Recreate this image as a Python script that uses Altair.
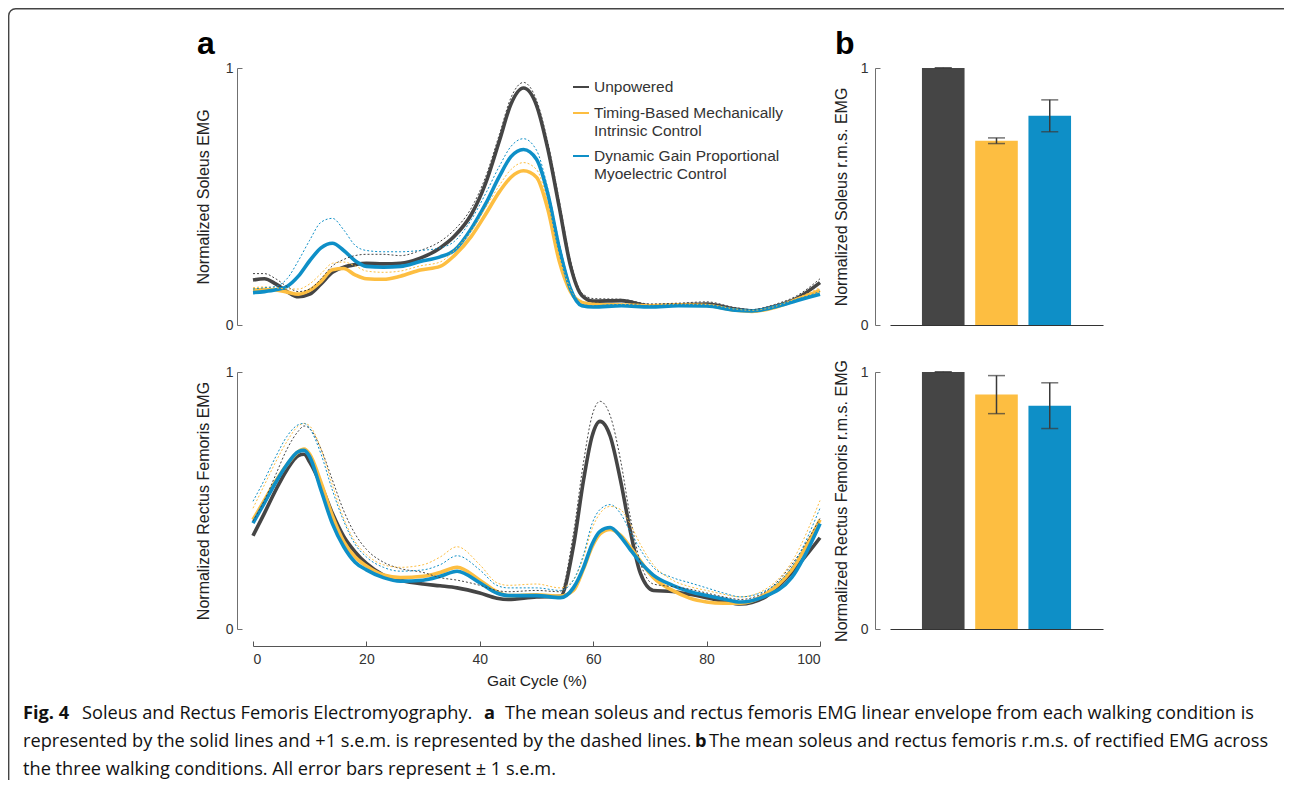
import altair as alt
import pandas as pd

# ---------------- data ----------------
CONDS = [
    "Unpowered",
    "Timing-Based Mechanically Intrinsic Control",
    "Dynamic Gain Proportional Myoelectric Control",
]
COLORS = ["#454545", "#FDBE41", "#0E8FC7"]

# Soleus EMG linear envelope (mean) and mean + 1 s.e.m.
sol_x = [0, 2, 4, 6, 8, 10, 12, 14, 16, 18, 20, 23, 26, 29.5, 33, 35.5, 38.5, 41, 43.5, 45.5,
         47.7, 50, 52, 54, 56, 58, 60, 65, 70, 75, 80, 85, 88, 92, 96, 100]
sol_unpowered = [0.175, 0.18, 0.16, 0.13, 0.11, 0.12, 0.16, 0.205, 0.225, 0.235, 0.24, 0.238, 0.24,
                 0.26, 0.3, 0.345, 0.43, 0.55, 0.72, 0.86, 0.922, 0.855, 0.685, 0.46, 0.23, 0.115,
                 0.093, 0.095, 0.075, 0.078, 0.082, 0.062, 0.055, 0.072, 0.105, 0.165]
sol_timing = [0.136, 0.138, 0.136, 0.128, 0.12, 0.135, 0.17, 0.215, 0.22, 0.195, 0.18, 0.178, 0.19,
              0.214, 0.228, 0.27, 0.345, 0.43, 0.52, 0.575, 0.6, 0.575, 0.45, 0.25, 0.13, 0.088,
              0.08, 0.078, 0.075, 0.078, 0.076, 0.058, 0.053, 0.068, 0.1, 0.135]
sol_dynamic = [0.126, 0.13, 0.137, 0.15, 0.19, 0.25, 0.3, 0.318, 0.29, 0.25, 0.228, 0.225, 0.228,
               0.247, 0.265, 0.29, 0.375, 0.47, 0.58, 0.655, 0.683, 0.645, 0.51, 0.3, 0.14, 0.075,
               0.07, 0.075, 0.07, 0.075, 0.074, 0.058, 0.055, 0.07, 0.095, 0.12]
sol_unpowered_up = [0.2, 0.2, 0.18, 0.15, 0.13, 0.14, 0.18, 0.23, 0.255, 0.27, 0.275, 0.275, 0.27,
                    0.29, 0.325, 0.37, 0.455, 0.575, 0.745, 0.885, 0.944, 0.875, 0.71, 0.485, 0.25,
                    0.125, 0.103, 0.1, 0.082, 0.085, 0.09, 0.068, 0.06, 0.08, 0.115, 0.18]
sol_timing_up = [0.145, 0.148, 0.145, 0.14, 0.14, 0.16, 0.2, 0.24, 0.245, 0.23, 0.21, 0.205, 0.21,
                 0.23, 0.245, 0.29, 0.365, 0.455, 0.545, 0.605, 0.632, 0.605, 0.475, 0.27, 0.14,
                 0.092, 0.085, 0.082, 0.08, 0.082, 0.08, 0.062, 0.057, 0.072, 0.105, 0.145]
sol_dynamic_up = [0.14, 0.145, 0.15, 0.18, 0.25, 0.33, 0.4, 0.415, 0.37, 0.31, 0.29, 0.285, 0.285,
                  0.29, 0.3, 0.325, 0.41, 0.51, 0.62, 0.695, 0.725, 0.68, 0.53, 0.32, 0.15, 0.08,
                  0.075, 0.08, 0.075, 0.08, 0.078, 0.062, 0.058, 0.074, 0.1, 0.13]

# Rectus femoris EMG linear envelope (mean) and mean + 1 s.e.m.
rf_x = [0, 2, 4, 6, 8, 9, 10, 12, 14, 16, 18, 20, 23, 26, 30, 33, 36, 40, 43, 45, 50, 54.2, 56.5,
        58.3, 59.8, 61.2, 63, 64.8, 66.5, 68.3, 70.6, 74, 77, 80, 83, 86, 90, 95, 100]
rf_unpowered = [0.363, 0.45, 0.54, 0.62, 0.675, 0.68, 0.65, 0.56, 0.45, 0.36, 0.3, 0.255, 0.21, 0.19,
                0.175, 0.168, 0.16, 0.14, 0.12, 0.115, 0.125, 0.127, 0.32, 0.58, 0.75, 0.808, 0.75,
                0.58, 0.386, 0.218, 0.15, 0.146, 0.135, 0.122, 0.108, 0.097, 0.12, 0.22, 0.355]
rf_timing = [0.425, 0.5, 0.575, 0.64, 0.69, 0.7, 0.68, 0.57, 0.44, 0.34, 0.28, 0.245, 0.21, 0.2,
             0.205, 0.22, 0.24, 0.19, 0.145, 0.13, 0.133, 0.128, 0.15, 0.235, 0.32, 0.37, 0.387,
             0.365, 0.32, 0.265, 0.2, 0.15, 0.12, 0.105, 0.1, 0.1, 0.13, 0.23, 0.425]
rf_dynamic = [0.412, 0.49, 0.57, 0.64, 0.69, 0.695, 0.67, 0.54, 0.41, 0.32, 0.26, 0.23, 0.2, 0.186,
              0.19, 0.205, 0.225, 0.18, 0.14, 0.13, 0.13, 0.122, 0.16, 0.24, 0.33, 0.38, 0.395,
              0.36, 0.31, 0.26, 0.21, 0.17, 0.146, 0.13, 0.117, 0.105, 0.125, 0.2, 0.41]
rf_unpowered_up = [0.42, 0.5, 0.6, 0.7, 0.77, 0.79, 0.78, 0.7, 0.58, 0.46, 0.37, 0.31, 0.26, 0.235,
                   0.22, 0.2, 0.19, 0.17, 0.15, 0.145, 0.15, 0.145, 0.37, 0.65, 0.83, 0.886, 0.83,
                   0.66, 0.44, 0.26, 0.175, 0.165, 0.155, 0.14, 0.125, 0.115, 0.14, 0.25, 0.43]
rf_timing_up = [0.47, 0.56, 0.65, 0.73, 0.79, 0.8, 0.79, 0.7, 0.56, 0.43, 0.34, 0.29, 0.25, 0.24,
                0.25, 0.28, 0.32, 0.25, 0.18, 0.17, 0.175, 0.16, 0.19, 0.28, 0.39, 0.45, 0.477,
                0.465, 0.41, 0.33, 0.25, 0.19, 0.165, 0.15, 0.135, 0.125, 0.15, 0.26, 0.5]
rf_dynamic_up = [0.497, 0.58, 0.67, 0.75, 0.795, 0.8, 0.78, 0.68, 0.54, 0.42, 0.33, 0.28, 0.24, 0.225,
                 0.23, 0.25, 0.285, 0.23, 0.17, 0.16, 0.16, 0.15, 0.19, 0.29, 0.41, 0.465, 0.484,
                 0.45, 0.38, 0.31, 0.24, 0.2, 0.18, 0.16, 0.14, 0.125, 0.145, 0.24, 0.47]

# r.m.s. EMG bars (normalized) and s.e.m.
sol_rms = [1.0, 0.717, 0.814]
sol_rms_sem = [0.001, 0.011, 0.062]
rf_rms = [1.0, 0.912, 0.869]
rf_rms_sem = [0.001, 0.074, 0.089]

x_ticks = [0, 20, 40, 60, 80, 100]
y_ticks = [0, 1]

caption_line1 = ["Fig. 4", "Soleus and Rectus Femoris Electromyography.", "a",
                 "The mean soleus and rectus femoris EMG linear envelope from each walking condition is"]
caption_line2 = ["represented by the solid lines and +1 s.e.m. is represented by the dashed lines.", "b",
                 "The mean soleus and rectus femoris r.m.s. of rectified EMG across"]
caption_line3 = ["the three walking conditions. All error bars represent \u00b1 1 s.e.m."]

# ---------------- tables ----------------
def long_df(xs, means, uppers):
    rows = []
    for cond, m, u in zip(CONDS, means, uppers):
        for xv, mv, uv in zip(xs, m, u):
            rows.append({"x": xv, "mean": mv, "upper": uv, "cond": cond})
    return pd.DataFrame(rows)


sol_df = long_df(sol_x, [sol_unpowered, sol_timing, sol_dynamic],
                 [sol_unpowered_up, sol_timing_up, sol_dynamic_up])
rf_df = long_df(rf_x, [rf_unpowered, rf_timing, rf_dynamic],
                [rf_unpowered_up, rf_timing_up, rf_dynamic_up])


def bar_df(vals, sems):
    return pd.DataFrame({"cond": CONDS, "rms": vals,
                         "lo": [v - s for v, s in zip(vals, sems)],
                         "hi": [v + s for v, s in zip(vals, sems)]})


sol_bar = bar_df(sol_rms, sol_rms_sem)
rf_bar = bar_df(rf_rms, rf_rms_sem)

# ---------------- layout constants (chart px) ----------------
W, H = 1276, 772
FONT = "Liberation Sans"
LINE_X_RANGE = [245, 812]
TOP_Y = [317, 60]
BOT_Y = [621, 364]
LINE_AXIS_X = 229
BAR_AXIS_X = 867
BAR_X_RANGE = [882, 1095]
AXIS_GREY = "#707070"
TITLE_SIZE = 16
TICK_SIZE = 14

LEGEND = alt.Legend(
    title=None, orient="none", legendX=564, legendY=70,
    symbolType="stroke", symbolSize=256, symbolStrokeWidth=2,
    labelFont=FONT, labelFontSize=15.5, labelColor="#333", labelLimit=400,
    rowPadding=8, labelOffset=4,
    labelExpr=("datum.label == 'Unpowered' ? 'Unpowered' : "
               "indexof(datum.label, 'Timing') == 0 ? "
               "['Timing-Based Mechanically', 'Intrinsic Control'] : "
               "['Dynamic Gain Proportional', 'Myoelectric Control']"),
)


def color_enc(legend):
    return alt.Color("cond:N", scale=alt.Scale(domain=CONDS, range=COLORS), legend=legend)


def y_axis(title):
    return alt.Axis(orient="left", offset=-LINE_AXIS_X, values=y_ticks, format="d", title=title,
                    ticks=False, domainColor=AXIS_GREY, domainWidth=1, grid=False,
                    labelFont=FONT, labelFontSize=TICK_SIZE, labelColor="#333", labelPadding=4,
                    titleFont=FONT, titleFontSize=TITLE_SIZE, titleFontWeight="normal",
                    titleColor="#222", titlePadding=14)


def line_panel(df, yrange, ytitle, xaxis, legend):
    xenc = alt.X("x:Q", scale=alt.Scale(domain=[0, 100], range=LINE_X_RANGE), axis=xaxis)
    ysc = alt.Scale(domain=[0, 1], range=yrange)
    base = alt.Chart(df)
    dotted = base.mark_line(strokeWidth=1, strokeDash=[2, 2], interpolate="monotone").encode(
        x=xenc, y=alt.Y("upper:Q", scale=ysc, axis=y_axis(ytitle)), color=color_enc(legend))
    solid = base.mark_line(strokeWidth=3.6, interpolate="monotone").encode(
        x=xenc, y=alt.Y("mean:Q", scale=ysc, axis=y_axis(ytitle)), color=color_enc(legend))
    return alt.layer(solid, dotted)


def inward_y_ticks(yrange, axis_x, color):
    return alt.Chart(pd.DataFrame({"v": y_ticks})).mark_point(opacity=0).encode(
        y=alt.Y("v:Q", scale=alt.Scale(domain=[0, 1], range=yrange),
                axis=alt.Axis(orient="right", offset=axis_x - W, values=y_ticks, labels=False,
                              domain=False, ticks=True, tickSize=5, tickColor=color,
                              tickWidth=1, title=None, grid=False)))


def bar_panel(df, yrange, ytitle, base_y):
    xenc = alt.X("cond:N", sort=CONDS,
                 scale=alt.Scale(domain=CONDS, range=BAR_X_RANGE, paddingInner=0.2, paddingOuter=0.6),
                 axis=alt.Axis(orient="bottom", offset=base_y - H, title=None, labels=False,
                               ticks=False, domainColor="#333", domainWidth=1.2, grid=False))
    ysc = alt.Scale(domain=[0, 1], range=yrange)
    yax = alt.Axis(orient="left", offset=-BAR_AXIS_X, values=y_ticks, format="d", title=ytitle,
                   ticks=False, domainColor=AXIS_GREY, domainWidth=1, grid=False,
                   labelFont=FONT, labelFontSize=TICK_SIZE, labelColor="#333", labelPadding=7,
                   titleFont=FONT, titleFontSize=TITLE_SIZE, titleFontWeight="normal",
                   titleColor="#222", titlePadding=11)
    base = alt.Chart(df)
    bars = base.mark_bar().encode(x=xenc, y=alt.Y("rms:Q", scale=ysc, axis=yax),
                                  color=color_enc(None))
    err = base.mark_rule(color="#3a3a3a", strokeWidth=1.5).encode(
        x=xenc, y=alt.Y("lo:Q", scale=ysc, axis=yax), y2="hi:Q")
    cap_lo = base.mark_tick(color="#3a3a3a", thickness=1.5, size=17).encode(
        x=xenc, y=alt.Y("lo:Q", scale=ysc, axis=yax))
    cap_hi = base.mark_tick(color="#3a3a3a", thickness=1.5, size=17).encode(
        x=xenc, y=alt.Y("hi:Q", scale=ysc, axis=yax))
    return alt.layer(bars, err, cap_lo, cap_hi)


gait_axis = alt.Axis(orient="bottom", offset=638 - H, values=x_ticks, title="Gait Cycle (%)",
                     ticks=False, domainColor="#555", domainWidth=1, grid=False,
                     labelFont=FONT, labelFontSize=TICK_SIZE, labelColor="#333", labelPadding=6,
                     titleFont=FONT, titleFontSize=TITLE_SIZE - 0.5, titleFontWeight="normal",
                     titleColor="#222", titlePadding=7)

x_inward = alt.Chart(pd.DataFrame({"v": x_ticks})).mark_point(opacity=0).encode(
    x=alt.X("v:Q", scale=alt.Scale(domain=[0, 100], range=LINE_X_RANGE),
            axis=alt.Axis(orient="top", offset=-638, values=x_ticks, labels=False, domain=False,
                          ticks=True, tickSize=5, tickColor="#555", title=None, grid=False)))

top_lines = line_panel(sol_df, TOP_Y, "Normalized Soleus EMG", None, LEGEND)
bot_lines = line_panel(rf_df, BOT_Y, "Normalized Rectus Femoris EMG", gait_axis, None)
top_bars = bar_panel(sol_bar, TOP_Y, "Normalized Soleus r.m.s. EMG", TOP_Y[0])
bot_bars = bar_panel(rf_bar, BOT_Y, "Normalized Rectus Femoris r.m.s. EMG", BOT_Y[0])

one = pd.DataFrame({"k": [0]})


def label(text, x, y, size, weight="normal", font=FONT, color="#111"):
    return alt.Chart(one).mark_text(align="left", baseline="alphabetic", fontSize=size,
                                    fontWeight=weight, font=font, color=color).encode(
        x=alt.value(x), y=alt.value(y), text=alt.value(text))


CAP_FONT = "Open Sans"
CAP_SIZE = 18.2
caption = [
    label(caption_line1[0], 15, 711, CAP_SIZE, "bold", CAP_FONT),
    label(caption_line1[1], 74, 711, CAP_SIZE, "normal", CAP_FONT),
    label(caption_line1[2], 476, 711, CAP_SIZE, "bold", CAP_FONT),
    label(caption_line1[3], 497, 711, CAP_SIZE, "normal", CAP_FONT),
    label(caption_line2[0], 15, 739, CAP_SIZE, "normal", CAP_FONT),
    label(caption_line2[1], 687, 739, CAP_SIZE, "bold", CAP_FONT),
    label(caption_line2[2], 701, 739, CAP_SIZE, "normal", CAP_FONT),
    label(caption_line3[0], 15, 767, CAP_SIZE, "normal", CAP_FONT),
]

letters = [label("a", 189, 46, 32, "bold", FONT, "#000"),
           label("b", 827, 46, 32, "bold", FONT, "#000")]

frame = alt.Chart(one).mark_rect(fillOpacity=0, stroke="#444", strokeWidth=1.4,
                                 cornerRadiusTopLeft=7).encode(
    x=alt.value(0.7), x2=alt.value(W + 60), y=alt.value(0.7), y2=alt.value(H + 60))

chart = alt.layer(
    frame,
    top_lines,
    inward_y_ticks(TOP_Y, LINE_AXIS_X, AXIS_GREY),
    bot_lines,
    inward_y_ticks(BOT_Y, LINE_AXIS_X, AXIS_GREY),
    x_inward,
    top_bars,
    inward_y_ticks(TOP_Y, BAR_AXIS_X, AXIS_GREY),
    bot_bars,
    inward_y_ticks(BOT_Y, BAR_AXIS_X, AXIS_GREY),
    *letters,
    *caption,
).resolve_scale(x="independent", y="independent", color="independent").properties(
    width=W, height=H, autosize=alt.AutoSizeParams(type="none"), padding=0,
    background="white",
).configure_view(stroke="transparent")

chart.save("out.html", embed_options={"renderer": "svg", "actions": False})
